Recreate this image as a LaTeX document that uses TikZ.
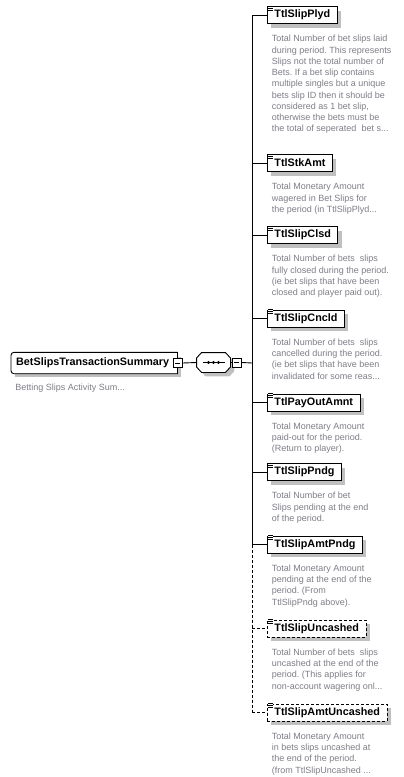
\documentclass[tikz,border=0pt]{standalone}
\usepackage{fontspec}
\setmainfont{Liberation Sans}
\usetikzlibrary{positioning,shadows}
\definecolor{doctext}{RGB}{125,125,135}
\definecolor{shadowgray}{RGB}{192,192,192}
\newcommand{\elemfont}{\fontsize{10.8}{12}\selectfont\bfseries}
\newcommand{\docfont}{\fontsize{9}{11.25}\selectfont\frenchspacing}
\tikzset{
    boxshadow/.style={drop shadow={shadow xshift=4pt, shadow yshift=-4pt, fill=shadowgray, opacity=1}},
    rootbox/.style={fill=white, font=\elemfont, text width=156.3pt, inner xsep=4.7pt, inner ysep=0pt, minimum height=20.5pt, anchor=west, boxshadow},
    elembox/.style={draw, fill=white, font=\elemfont, inner xsep=7pt, inner ysep=0pt, minimum height=17pt, anchor=west, boxshadow},
    optline/.style={dash pattern=on 3pt off 2pt},
    optbox/.style={elembox, optline},
    docnote/.style={font=\docfont, text=doctext, align=left, inner sep=0pt},
    minusbox/.style={draw, fill=white, minimum size=9pt, inner sep=0pt,
        path picture={\draw[line width=0.8pt] ([xshift=2pt]path picture bounding box.west) -- ([xshift=-2pt]path picture bounding box.east);}},
    seqbox/.style={minimum width=33pt, minimum height=19pt, inner sep=0pt}
}

\begin{document}
\begin{tikzpicture}[x=1pt, y=-1pt, line width=0.9pt]
\useasboundingbox (0,0) rectangle (404,777); % page size

% root element
\node[rootbox] (summary) at (11,363) {BetSlipsTransactionSummary};
\draw[rounded corners=3pt] (summary.north east) -- (summary.north west) -- (summary.south west) -- (summary.south east); % rounded left side
\draw (summary.south east) -- (summary.north east); % square right side
\node[minusbox] (summaryminus) at (summary.east) {};
\node[docnote, below right=10pt and 4pt of summary.south west] (summarydoc) {Betting Slips Activity Sum...};

% sequence compositor
\node[seqbox] (seq) at (213.5,362.5) {};
\draw[fill=white, preaction={fill=shadowgray, transform canvas={shift={(4pt,-4pt)}}}]
    ([yshift=4.5pt]seq.west) -- ([xshift=5pt]seq.north west) -- ([xshift=-5pt]seq.north east) -- ([yshift=4.5pt]seq.east)
    -- ([yshift=-4.5pt]seq.east) -- ([xshift=-5pt]seq.south east) -- ([xshift=5pt]seq.south west) -- ([yshift=-4.5pt]seq.west) -- cycle; % octagon
\draw ([xshift=-11pt]seq.center) -- ([xshift=11pt]seq.center); % sequence symbol
\fill ([xshift=-5pt]seq.center) circle [radius=1.6pt];
\fill (seq.center) circle [radius=1.6pt];
\fill ([xshift=5pt]seq.center) circle [radius=1.6pt];
\node[minusbox, right=1.5pt of seq.east] (seqminus) {};
\draw (summaryminus.east) -- (seq.west);
\draw (seq.east) -- (seqminus.west);
\coordinate (bus) at (252,363); % vertical connector line

% child elements
\node[elembox] (plyd) at (267,15) {TtlSlipPlyd};
\node[docnote, below right=11pt and 4.5pt of plyd.south west] (plyddoc) {Total Number of bet slips laid\\during period. This represents\\Slips not the total number of\\Bets. If a bet slip contains\\multiple singles but a unique\\bets slip ID then it should be\\considered as 1 bet slip,\\otherwise the bets must be\\the total of seperated~ bet s...};

\node[elembox] (stkamt) at (267,163) {TtlStkAmt};
\node[docnote, below right=11pt and 4.5pt of stkamt.south west] (stkamtdoc) {Total Monetary Amount\\wagered in Bet Slips for\\the period (in TtlSlipPlyd...};

\node[elembox] (clsd) at (267,235) {TtlSlipClsd};
\node[docnote, below right=11pt and 4.5pt of clsd.south west] (clsddoc) {Total Number of bets~ slips\\fully closed during the period.\\(ie bet slips that have been\\closed and player paid out).};

\node[elembox] (cncld) at (267,318.5) {TtlSlipCncld};
\node[docnote, below right=11pt and 4.5pt of cncld.south west] (cnclddoc) {Total Number of bets~ slips\\cancelled during the period.\\(ie bet slips that have been\\invalidated for some reas...};

\node[elembox] (payout) at (267,402.5) {TtlPayOutAmnt};
\node[docnote, below right=11pt and 4.5pt of payout.south west] (payoutdoc) {Total Monetary Amount\\paid-out for the period.\\(Return to player).};

\node[elembox] (pndg) at (267,472) {TtlSlipPndg};
\node[docnote, below right=11pt and 4.5pt of pndg.south west] (pndgdoc) {Total Number of bet\\Slips pending at the end\\of the period.};

\node[elembox] (amtpndg) at (267,544.5) {TtlSlipAmtPndg};
\node[docnote, below right=11pt and 4.5pt of amtpndg.south west] (amtpndgdoc) {Total Monetary Amount\\pending at the end of the\\period. (From\\TtlSlipPndg above).};

\node[optbox] (uncashed) at (267,628.5) {TtlSlipUncashed};
\node[docnote, below right=11pt and 4.5pt of uncashed.south west] (uncasheddoc) {Total Number of bets~ slips\\uncashed at the end of the\\period. (This applies for\\non-account wagering onl...};

\node[optbox] (amtuncashed) at (267,712.5) {TtlSlipAmtUncashed};
\node[docnote, below right=11pt and 4.5pt of amtuncashed.south west] (amtuncasheddoc) {Total Monetary Amount\\in bets slips uncashed at\\the end of the period.\\(from TtlSlipUncashed ...};

% documentation marks
\foreach \n in {plyd,stkamt,clsd,cncld,payout,pndg,amtpndg,uncashed,amtuncashed}{
    \fill[white] ([shift={(0.5pt,-0.5pt)}]\n.north west) rectangle +(5.5pt,-4.5pt);
    \foreach \k in {0,2,4} \draw[line width=0.7pt] ([shift={(1pt,-\k pt)}]\n.north west) -- +(5pt,0pt);
}

% connectors
\draw (seqminus.east) -- (bus);
\draw (plyd.west -| bus) -- (amtpndg.west -| bus); % required part
\draw[optline] (amtpndg.west -| bus) -- (amtuncashed.west -| bus); % optional part
\foreach \n in {plyd,stkamt,clsd,cncld,payout,pndg,amtpndg}
    \draw (\n.west -| bus) -- (\n.west);
\draw[optline] (uncashed.west -| bus) -- (uncashed.west);
\draw[optline] (amtuncashed.west -| bus) -- (amtuncashed.west);
\end{tikzpicture}
\end{document}
